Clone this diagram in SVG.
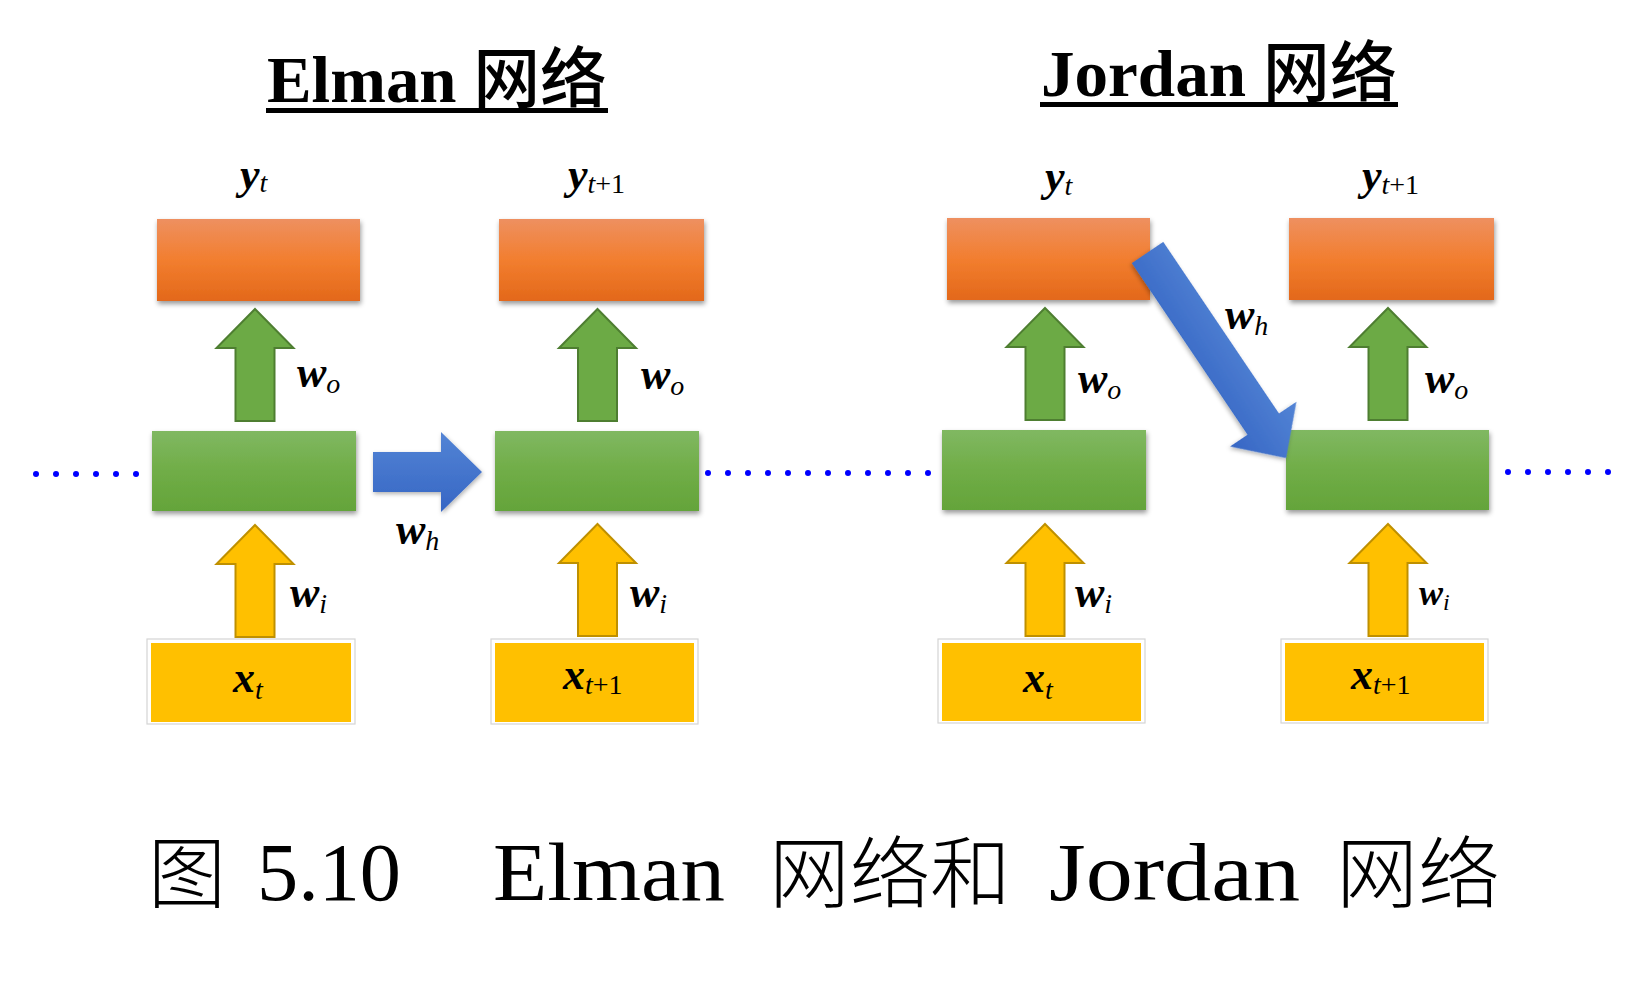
<svg xmlns="http://www.w3.org/2000/svg" width="1632" height="986" viewBox="0 0 1632 986">
<defs>
<style>
.title{font-family:"Liberation Serif","Noto Sans CJK SC",serif;font-weight:bold;font-size:66px;fill:#000}
.tc{font-family:"Noto Sans CJK SC",sans-serif;font-weight:500}
.cap{font-family:"Liberation Serif","Noto Sans CJK SC",serif;font-size:82px;fill:#000}
.capc{font-family:"Noto Sans CJK SC",sans-serif;font-size:78px;font-weight:300;fill:#000}
.m{font-family:"Liberation Serif","DejaVu Serif",serif;font-size:44px;font-weight:bold;font-style:italic;fill:#000}
.s{font-size:28px;font-weight:normal;font-style:italic}
.r{font-size:28px;font-weight:normal;font-style:normal}
.orange{fill:url(#gOrange);filter:url(#sh)}
.green{fill:url(#gGreen);filter:url(#sh)}
.yframe{fill:#fff;stroke:#d4d4d4;stroke-width:1.2}
.yfill{fill:#FFC000}
.garrow{fill:#6CAA45;stroke:#4E7E31;stroke-width:2}
.yarrow{fill:#FFC000;stroke:#BF9000;stroke-width:2}
.barrow{fill:url(#gBlue);filter:url(#sh2)}
.dot{fill:#0000FF}
</style>
<linearGradient id="gOrange" x1="0" y1="0" x2="0" y2="1">
<stop offset="0" stop-color="#EE9060"/>
<stop offset="0.5" stop-color="#F27E2F"/>
<stop offset="1" stop-color="#E3681A"/>
</linearGradient>
<linearGradient id="gGreen" x1="0" y1="0" x2="0" y2="1">
<stop offset="0" stop-color="#80B862"/>
<stop offset="0.5" stop-color="#70AD47"/>
<stop offset="1" stop-color="#64A43A"/>
</linearGradient>
<linearGradient id="gBlue" x1="0" y1="0" x2="0" y2="1">
<stop offset="0" stop-color="#5384D5"/>
<stop offset="1" stop-color="#3666C4"/>
</linearGradient>
<filter id="sh" x="-10%" y="-10%" width="125%" height="135%">
<feDropShadow dx="1" dy="3" stdDeviation="2.5" flood-color="#000" flood-opacity="0.4"/>
</filter>
<filter id="sh2" x="-20%" y="-20%" width="140%" height="140%">
<feDropShadow dx="1" dy="2" stdDeviation="2" flood-color="#000" flood-opacity="0.3"/>
</filter>
<path id="up" d="M0,0 L38.5,39 L19.5,39 L19.5,112 L-19.5,112 L-19.5,39 L-38.5,39 Z"/>
<circle id="d" r="3"/>
</defs>
<rect width="1632" height="986" fill="#fff"/>

<g id="titles">
<text class="title" x="267" y="102" textLength="340" lengthAdjust="spacingAndGlyphs">Elman <tspan class="tc">网络</tspan></text>
<rect x="266" y="108" width="342" height="5" fill="#000"/>
<text class="title" x="1041" y="96" textLength="356" lengthAdjust="spacingAndGlyphs">Jordan <tspan class="tc">网络</tspan></text>
<rect x="1040" y="102" width="358" height="5" fill="#000"/>
</g>

<g id="dots" class="dot">
<use href="#d" x="36" y="474"/><use href="#d" x="56" y="474"/><use href="#d" x="76" y="474"/><use href="#d" x="96" y="474"/><use href="#d" x="116" y="474"/><use href="#d" x="136" y="474"/>
<use href="#d" x="708" y="473"/><use href="#d" x="728" y="473"/><use href="#d" x="748" y="473"/><use href="#d" x="768" y="473"/><use href="#d" x="788" y="473"/><use href="#d" x="808" y="473"/>
<use href="#d" x="828" y="473"/><use href="#d" x="848" y="473"/><use href="#d" x="868" y="473"/><use href="#d" x="888" y="473"/><use href="#d" x="908" y="473"/><use href="#d" x="928" y="473"/>
<use href="#d" x="1508" y="472"/><use href="#d" x="1528" y="472"/><use href="#d" x="1548" y="472"/><use href="#d" x="1568" y="472"/><use href="#d" x="1588" y="472"/><use href="#d" x="1608" y="472"/>
</g>

<g id="elman-y1">
<rect class="orange" x="157" y="219" width="203" height="82"/>
<text class="m" x="240" y="189">y<tspan class="s" dy="3">t</tspan></text>
</g>
<g id="elman-y2">
<rect class="orange" x="499" y="219" width="205" height="82"/>
<text class="m" x="568" y="189">y<tspan class="s" dy="4">t</tspan><tspan class="r">+1</tspan></text>
</g>
<g id="elman-h1">
<rect class="green" x="152" y="431" width="204" height="80"/>
</g>
<g id="elman-h2">
<rect class="green" x="495" y="431" width="204" height="80"/>
</g>
<g id="elman-x1">
<rect class="yframe" x="147" y="639" width="208" height="85"/>
<rect class="yfill" x="151" y="643" width="200" height="79"/>
<text class="m" x="233" y="692">x<tspan class="s" dy="7">t</tspan></text>
</g>
<g id="elman-x2">
<rect class="yframe" x="491" y="639" width="207" height="85"/>
<rect class="yfill" x="495" y="643" width="199" height="79"/>
<text class="m" x="563" y="689">x<tspan class="s" dy="5">t</tspan><tspan class="r">+1</tspan></text>
</g>

<g id="jordan-y1">
<rect class="orange" x="947" y="218" width="203" height="82"/>
<text class="m" x="1045" y="191">y<tspan class="s" dy="4">t</tspan></text>
</g>
<g id="jordan-y2">
<rect class="orange" x="1289" y="218" width="205" height="82"/>
<text class="m" x="1362" y="190">y<tspan class="s" dy="4">t</tspan><tspan class="r">+1</tspan></text>
</g>
<g id="jordan-h1">
<rect class="green" x="942" y="430" width="204" height="80"/>
</g>
<g id="jordan-h2">
<rect class="green" x="1286" y="430" width="203" height="80"/>
</g>
<g id="jordan-x1">
<rect class="yframe" x="938" y="639" width="207" height="84"/>
<rect class="yfill" x="942" y="643" width="199" height="78"/>
<text class="m" x="1023" y="692">x<tspan class="s" dy="7">t</tspan></text>
</g>
<g id="jordan-x2">
<rect class="yframe" x="1281" y="639" width="207" height="84"/>
<rect class="yfill" x="1285" y="643" width="199" height="78"/>
<text class="m" x="1351" y="689">x<tspan class="s" dy="5">t</tspan><tspan class="r">+1</tspan></text>
</g>

<g id="connectors">
<use href="#up" class="garrow" x="255" y="309"/>
<use href="#up" class="garrow" x="597.5" y="309"/>
<use href="#up" class="garrow" x="1045" y="308"/>
<use href="#up" class="garrow" x="1388" y="308"/>
<use href="#up" class="yarrow" x="255" y="525"/>
<use href="#up" class="yarrow" x="597.5" y="524"/>
<use href="#up" class="yarrow" x="1045" y="524"/>
<use href="#up" class="yarrow" x="1388" y="524"/>
<path class="barrow" d="M373,452 L441,452 L441,432 L482,472 L441,512 L441,492 L373,492 Z"/>
<path class="barrow" transform="translate(1147.5,252.5) rotate(56)" d="M0,-19 L207,-19 L207,-40 L248,0 L207,40 L207,19 L0,19 Z"/>
<text class="m" x="297" y="387">w<tspan class="s" dy="6">o</tspan></text>
<text class="m" x="641" y="389">w<tspan class="s" dy="6">o</tspan></text>
<text class="m" x="1078" y="393">w<tspan class="s" dy="6">o</tspan></text>
<text class="m" x="1425" y="393">w<tspan class="s" dy="6">o</tspan></text>
<text class="m" x="290" y="607">w<tspan class="s" dy="6">i</tspan></text>
<text class="m" x="630" y="607">w<tspan class="s" dy="6">i</tspan></text>
<text class="m" x="1075" y="607">w<tspan class="s" dy="6">i</tspan></text>
<text class="m" x="1419" y="605" style="font-size:36px">w<tspan class="s" dy="5" style="font-size:24px">i</tspan></text>
<text class="m" x="396" y="544">w<tspan class="s" dy="6">h</tspan></text>
<text class="m" x="1225" y="329">w<tspan class="s" dy="6">h</tspan></text>
</g>

<g id="caption">
<text class="capc" x="148" y="902">图</text>
<text class="cap" x="257" y="900" textLength="144" lengthAdjust="spacingAndGlyphs">5.10</text>
<text class="cap" x="493" y="900" textLength="232" lengthAdjust="spacingAndGlyphs">Elman</text>
<text class="capc" x="769" y="902" textLength="242" lengthAdjust="spacingAndGlyphs">网络和</text>
<text class="cap" x="1049" y="900" textLength="251" lengthAdjust="spacingAndGlyphs">Jordan</text>
<text class="capc" x="1336" y="902" textLength="164" lengthAdjust="spacingAndGlyphs">网络</text>
</g>
</svg>
